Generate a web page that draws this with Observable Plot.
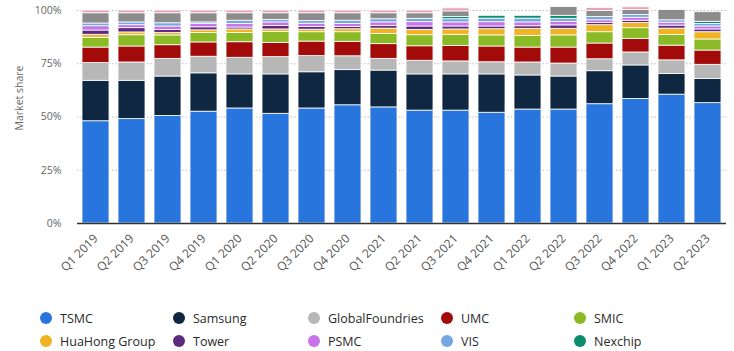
<!DOCTYPE html>
<html>
<head>
<meta charset="utf-8">
<script src="https://cdn.jsdelivr.net/npm/d3@7"></script>
<script src="https://cdn.jsdelivr.net/npm/@observablehq/plot@0.6"></script>
<style>
  html, body { margin: 0; padding: 0; background: #fff; }
  #wrap { position: relative; width: 734px; height: 351px; font-family: "Open Sans", sans-serif; }
  .lg { position: absolute; display: flex; align-items: center; font-size: 12.5px; color: #2a2a2a; white-space: nowrap; }
  .lg span.dot { width: 12px; height: 12px; border-radius: 50%; display: inline-block; margin-right: 8px; }
  #ylab { position: absolute; top: 98px; left: 19px; transform: translate(-50%, -50%) rotate(-90deg); transform-origin: center; font-size: 10.5px; color: #666; white-space: nowrap; }
</style>
</head>
<body>
<div id="wrap"><div id="chart"></div><div id="ylab">Market share</div></div>
<script>
const quarters = ["Q1 2019","Q2 2019","Q3 2019","Q4 2019","Q1 2020","Q2 2020","Q3 2020","Q4 2020","Q1 2021","Q2 2021","Q3 2021","Q4 2021","Q1 2022","Q2 2022","Q3 2022","Q4 2022","Q1 2023","Q2 2023"];
const companies = ["TSMC","Samsung","GlobalFoundries","UMC","SMIC","HuaHong Group","Tower","PSMC","VIS","Nexchip","Others","DB HiTek"];
const legendCompanies = ["TSMC","Samsung","GlobalFoundries","UMC","SMIC","HuaHong Group","Tower","PSMC","VIS","Nexchip"];
const colors = ["#2876dd","#0f2741","#b7b7b7","#a30a0a","#8aba25","#f0b323","#5c2a7e","#c774e8","#76a7e4","#0a8d6e","#8c8c8c","#e8a3b7"];

const tsmc    = [48,49,50.5,52.5,54,51.5,54,55.5,54.5,53,53,52,53.5,53.5,56,58.5,60.5,56.5];
const samsung = [19,18,18.5,18,16,18.5,17,16.5,17.3,17,17,18,16,15.5,15.5,15.7,9.7,11.4];
const gf      = [8.3,8.6,8.3,7.8,7.8,8.1,7.6,6.5,5.5,6.4,6.1,5.7,6.1,6.1,5.6,6.1,6.4,6.6];
const umc     = [7.3,7.5,6.4,6.7,7.3,6.7,6.8,6.8,6.9,6.8,7.3,7.4,7.0,7.5,7.4,6.4,6.9,6.7];
const smic    = [4.6,5.3,4.6,4.4,4.4,5.1,4.4,4.5,4.8,5.2,5.2,5.2,5.5,5.7,5.3,5.0,5.0,5.2];
const huahong = [1.4,1.3,1.2,1.3,1.6,1.2,1.2,1.4,2.5,2.5,2.5,2.9,3.3,3.1,3.3,2.4,3.0,3.4];
const tower   = [2.0,2.0,1.3,1.4,0.9,1.6,1.3,1.1,1.3,1.6,1.4,1.3,1.2,1.6,1.0,1.1,1.4,1.3];
const psmc    = [2.0,1.4,1.7,1.5,1.7,1.7,1.5,1.4,1.6,2.0,1.9,2.0,1.8,1.7,1.3,1.4,1.4,1.4];
const vis     = [1.3,1.3,1.5,0.8,1.5,1.2,1.3,1.5,1.5,1.6,1.5,1.7,1.8,1.4,1.6,1.3,1.1,1.2];
const nexchip = [0,0,0,0,0,0,0,0,0,0,1.1,1.3,1.3,1.4,0,0,0,1.0];
const others  = [4.8,4.3,4.7,4.3,3.5,3.1,3.6,3.5,2.8,2.6,2.6,0,0,4.1,2.8,2.3,4.8,4.5];
const dbhitek = [1.3,1.3,1.3,1.3,1.3,1.3,1.3,1.3,1.3,1.3,1.4,0,0,0,1.4,1.3,0,0];

const series = [tsmc,samsung,gf,umc,smic,huahong,tower,psmc,vis,nexchip,others,dbhitek];
const rows = [];
quarters.forEach((q, i) => {
  companies.forEach((c, j) => {
    rows.push({quarter: q, company: c, value: series[j][i]});
  });
});

const chart = Plot.plot({
  width: 734,
  height: 298,
  marginTop: 10,
  marginBottom: 75,
  marginLeft: 77,
  marginRight: 8,
  style: {fontFamily: "Open Sans, sans-serif", background: "transparent"},
  x: {domain: quarters, paddingInner: 0.25, paddingOuter: 0.1, label: null, tickSize: 0, tickRotate: -45, tickPadding: 13},
  y: {domain: [0, 100], ticks: [0,25,50,75,100], tickFormat: d => d + "%", label: null, tickSize: 0, tickPadding: 16},
  color: {domain: companies, range: colors},
  marks: [
    Plot.gridY([25,50,75,100], {stroke: "#bbb", strokeOpacity: 1, strokeDasharray: "1.5,2"}),
    Plot.barY(rows, {x: "quarter", y: "value", fill: "company", order: companies, stroke: "white", strokeWidth: 0.8}),
    Plot.ruleY([0], {stroke: "#333", strokeWidth: 1.5})
  ]
});
chart.querySelectorAll("g[aria-label='x-axis tick label']").forEach(g => { g.setAttribute("font-size", "12"); g.setAttribute("fill", "#555"); });
chart.querySelectorAll("g[aria-label='y-axis tick label']").forEach(g => { g.setAttribute("font-size", "10.5"); g.setAttribute("fill", "#666"); });
document.getElementById("chart").appendChild(chart);

const wrap = document.getElementById("wrap");
const colX = [40, 173, 308, 441, 574];
const rowY = [318, 341];
legendCompanies.forEach((c, i) => {
  const d = document.createElement("div");
  d.className = "lg";
  d.style.left = colX[i % 5] + "px";
  d.style.top = (rowY[Math.floor(i / 5)] - 9) + "px";
  d.style.height = "18px";
  const dot = document.createElement("span");
  dot.className = "dot";
  dot.style.background = colors[companies.indexOf(c)];
  d.appendChild(dot);
  d.appendChild(document.createTextNode(c));
  wrap.appendChild(d);
});
</script>
</body>
</html>
